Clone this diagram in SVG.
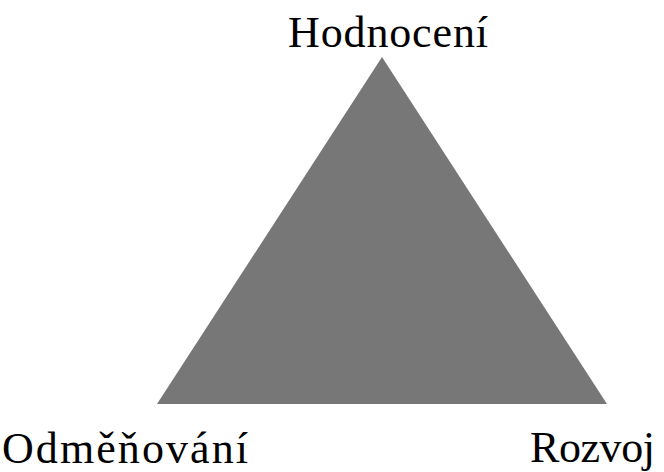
<svg xmlns="http://www.w3.org/2000/svg" width="664" height="472" viewBox="0 0 664 472">
<style>
.lbl{font-family:"Liberation Serif","Times New Roman",serif;font-size:44px;fill:#000}
</style>
<rect width="664" height="472" fill="#fff"/>
<g id="triangle">
<polygon points="382,57 607,404 157,404" fill="#777777"/>
</g>
<g id="connectors"></g>
<g id="label-top"><text class="lbl" x="288" y="47" textLength="200" lengthAdjust="spacing">Hodnocení</text></g>
<g id="label-left"><text class="lbl" x="2" y="463" textLength="246" lengthAdjust="spacing">Odměňování</text></g>
<g id="label-right"><text class="lbl" x="530" y="462" textLength="125" lengthAdjust="spacing">Rozvoj</text></g>
</svg>
